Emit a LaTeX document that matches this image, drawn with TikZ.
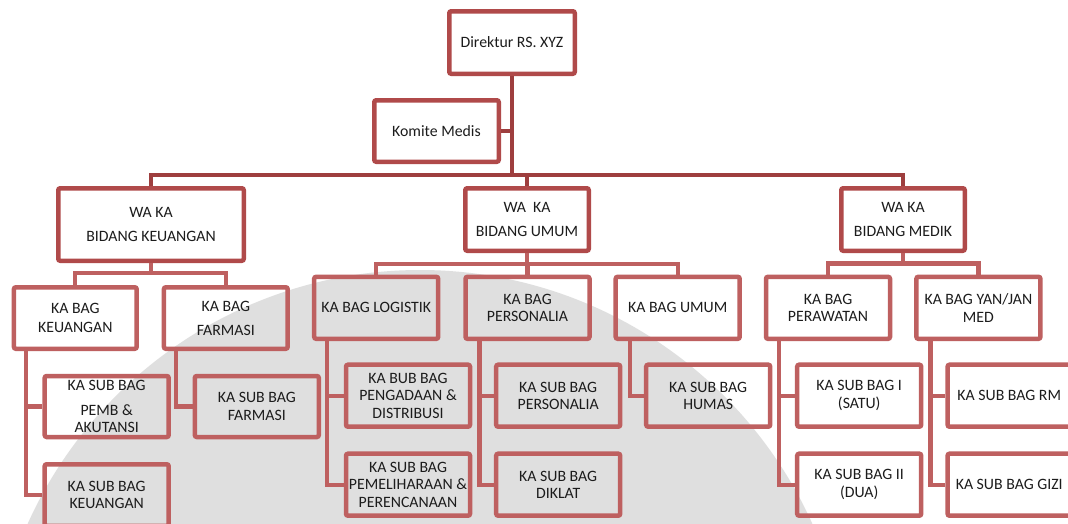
\documentclass[tikz,border=0pt]{standalone}
\usepackage{fontspec}
\setmainfont{Carlito}
\definecolor{topc}{RGB}{176,74,74}
\definecolor{topl}{RGB}{158,62,62}
\definecolor{lowc}{RGB}{190,96,96}
\definecolor{txt}{RGB}{28,28,28}
\definecolor{wm}{RGB}{223,223,223}
\begin{document}
\begin{tikzpicture}[x=1pt,y=-1pt,
  box/.style={draw=lowc, line width=4.5pt, rounded corners=2pt,
    minimum width=124pt, minimum height=62pt, inner sep=0pt,
    align=center, text=txt, font=\fontsize{15.8}{17.5}\selectfont},
  topbox/.style={box, draw=topc},
  conn/.style={draw=lowc, line width=4.3pt},
  topconn/.style={conn, draw=topl}]
\path[use as bounding box] (0,0) rectangle (1068,523);
\fill[white] (0,0) rectangle (1068,523);
\clip (0,0) rectangle (1068,523);
% watermark
\fill[wm] (420,700) circle [radius=430];

% level 0 / 1
\node[topbox, minimum width=125.5pt, minimum height=62.5pt] (dir) at (512,42.5) {Direktur RS. XYZ};
\node[topbox, minimum width=124.5pt, minimum height=61.5pt] (kom) at (436.5,131) {Komite Medis};
\node[topbox, minimum width=185.5pt, minimum height=72.5pt] (wakeu) at (151,224.5) {WA KA\\[6.5pt]BIDANG KEUANGAN};
\node[topbox, minimum width=123.5pt, minimum height=62.5pt] (waum) at (527,219.5) {WA\ \ KA\\[6.8pt]BIDANG UMUM};
\node[topbox, minimum width=123.5pt, minimum height=62.5pt] (wame) at (903,219.5) {WA KA\\[6.5pt]BIDANG MEDIK};

% level 2
\node[box, minimum width=122.8pt, minimum height=61.5pt] (bkeu) at (75.3,318) {KA BAG\\[0.8pt]KEUANGAN};
\node[box, minimum width=123.8pt, minimum height=61.5pt] (bfar) at (225.8,318) {KA BAG\\[6.5pt]FARMASI};
\node[box] (blog) at (376.2,307.8) {KA BAG LOGISTIK};
\node[box] (bper) at (527.5,307.8) {KA BAG\\PERSONALIA};
\node[box] (bumu) at (677.7,307.8) {KA BAG UMUM};
\node[box] (bpwt) at (828,307.8) {KA BAG\\PERAWATAN};
\node[box] (byan) at (978.4,307.8) {KA BAG YAN/JAN\\MED};

% level 3
\node[box, minimum height=61pt] (spemb) at (106.7,406.5) {KA SUB BAG\\[7.5pt]PEMB \&\\[-0.8pt]AKUTANSI};
\node[box, minimum height=61.5pt] (skeu) at (106.7,495) {KA SUB BAG\\[-0.8pt]KEUANGAN};
\node[box, minimum height=61pt] (sfar) at (256.8,406.5) {KA SUB BAG\\FARMASI};
\node[box] (speng) at (408,395.7) {KA BUB BAG\\PENGADAAN \&\\DISTRIBUSI};
\node[box] (spel) at (408,484.7) {KA SUB BAG\\PEMELIHARAAN \&\\PERENCANAAN};
\node[box] (sper) at (558.2,395.7) {KA SUB BAG\\PERSONALIA};
\node[box] (sdik) at (558.2,484.7) {KA SUB BAG\\DIKLAT};
\node[box] (shum) at (708.2,395.7) {KA SUB BAG\\HUMAS};
\node[box] (s1) at (859.2,395.7) {KA SUB BAG I\\(SATU)};
\node[box] (s2) at (859.2,484.7) {KA SUB BAG II\\(DUA)};
\node[box, minimum width=123.2pt] (srm) at (1009.2,395.7) {KA SUB BAG RM};
\node[box, minimum width=123.2pt] (sgizi) at (1009.2,484.7) {KA SUB BAG GIZI};

% top connectors
\draw[topconn] (dir.south) -- ++(0,99) coordinate (b1);
\draw[topconn] (kom.east) -- (kom.east -| dir.south);
\draw[topconn] (wakeu.north) |- (b1) -| (wame.north);
\draw[topconn] (waum.north) -- (waum.north |- b1);

% level 1 -> 2 buses
\draw[conn] (wakeu.south) -- ++(0,10.3) coordinate (kb);
\draw[conn] (bkeu.north) |- (kb) -| (bfar.north);
\draw[conn] (waum.south) -- ++(0,11) coordinate (ub);
\draw[conn] (blog.north) |- (ub) -| (bumu.north);
\draw[conn] (bper.north) -- (bper.north |- ub);
\draw[conn] (wame.south) -- ++(0,10.5) coordinate (mb);
\draw[conn] (bpwt.north) |- (mb) -| (byan.north);

% level 2 -> 3
\draw[conn] (skeu.west) -- ++(-16.7,0) coordinate (k1) -- (k1 |- bkeu.south);
\draw[conn] (spemb.west) -- (spemb.west -| k1);
\draw[conn] (sfar.west) -- ++(-16.7,0) coordinate (f1) -- (f1 |- bfar.south);
\draw[conn] (spel.west) -- ++(-16.6,0) coordinate (l1) -- (l1 |- blog.south);
\draw[conn] (speng.west) -- (speng.west -| l1);
\draw[conn] (sdik.west) -- ++(-14.4,0) coordinate (p1) -- (p1 |- bper.south);
\draw[conn] (sper.west) -- (sper.west -| p1);
\draw[conn] (shum.west) -- ++(-14.3,0) coordinate (h1) -- (h1 |- bumu.south);
\draw[conn] (s2.west) -- ++(-16,0) coordinate (w1) -- (w1 |- bpwt.south);
\draw[conn] (s1.west) -- (s1.west -| w1);
\draw[conn] (sgizi.west) -- ++(-15,0) coordinate (y1) -- (y1 |- byan.south);
\draw[conn] (srm.west) -- (srm.west -| y1);
\end{tikzpicture}
\end{document}
